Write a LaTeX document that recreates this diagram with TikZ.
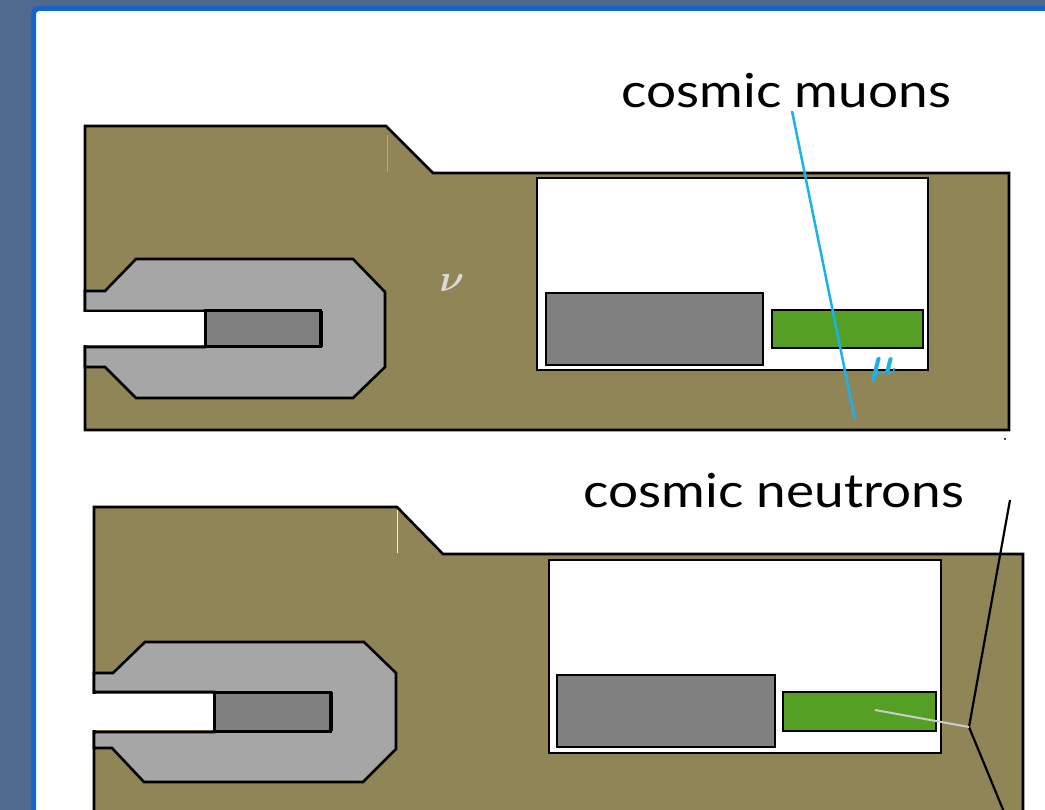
\documentclass[tikz,border=0pt]{standalone}
\usepackage{amsmath}
\usepackage{graphicx}
\usepackage{fontspec}
\setmainfont{Lato}
\newfontfamily\labelfont[FakeStretch=1.13]{Lato}
\usetikzlibrary{positioning}

\definecolor{slate}{RGB}{80,106,143}
\definecolor{frameblue}{RGB}{22,102,200}
\definecolor{rock}{RGB}{143,133,86}
\definecolor{shieldgray}{RGB}{166,166,166}
\definecolor{coregray}{RGB}{128,128,128}
\definecolor{detgreen}{RGB}{85,160,36}
\definecolor{muoncyan}{RGB}{26,178,234}

\begin{document}
\begin{tikzpicture}[x=1pt, y=-1pt,
    outline/.style={draw=black, line width=2.6pt},
    rockbody/.style={outline, fill=rock},
    shield/.style={outline, fill=shieldgray},
    core/.style={outline, line width=3pt, fill=coregray},
    hall/.style={outline, fill=white},
    target/.style={outline, fill=coregray},
    detector/.style={outline, fill=detgreen},
    label/.style={anchor=base west, font=\labelfont\fontsize{47}{56}\selectfont}]
    % page and slide frame
    \useasboundingbox (0,0) rectangle (1045,810);
    \fill[slate] (0,0) rectangle (1045,810);
    \draw[frameblue, line width=5pt, fill=white, rounded corners=5pt] (33.5,8.5) rectangle (1100,880);

    % upper site: rock with reactor shield and detector hall
    \draw[rockbody] (85,126) -- (386,126) -- (433,173) -- (1009,173) -- (1009,430) -- (85,430) -- cycle;
    \draw[rock!70!white, line width=0.6pt] (387,135) -- (387,172);
    \draw[shield] (85,291) -- (105,291) -- (136,259) -- (353,259) -- (385,292) -- (385,367) -- (353,398)
        -- (136,398) -- (105,367) -- (85,367) -- (85,347) -- (205,347) -- (205,311) -- (85,311) -- cycle;
    \fill[white] (82,312.5) rectangle (204,345.5);
    \draw[core] (205,311) rectangle (320,347);
    \draw[line width=1pt] (322,311) -- (322,347);
    \draw[hall] (537,178) rectangle (928,370);
    \draw[target] (546,293) rectangle (763,365);
    \draw[detector] (772,310) rectangle (923,348);
    \node[text=black!15] (nu) at (452,283) {\scalebox{3.8}{$\boldsymbol{\nu}$}};
    \fill (1005,439) circle (1.2pt);

    % lower site
    \draw[rockbody] (94,507) -- (397,507) -- (443,554) -- (1023,554) -- (1023,840) -- (94,840) -- cycle;
    \draw[white!85!rock, line width=1pt] (397,510) -- (397,553);
    \draw[shield] (94,673) -- (113,673) -- (145,642) -- (364,642) -- (396,673) -- (396,749) -- (363,782)
        -- (144,782) -- (112,748) -- (94,748) -- (94,732) -- (214,732) -- (214,692) -- (94,692) -- cycle;
    \fill[white] (91,694) rectangle (213,730);
    \draw[core] (214,692) rectangle (330,731);
    \draw[line width=1pt] (332,692) -- (332,731);
    \draw[hall] (549,560) rectangle (941,753);
    \draw[target] (557,675) rectangle (775,747);
    \draw[detector] (783,692) rectangle (936,731);

    % labels
    \node[label] (muons) at (618,108) {cosmic muons};
    \node[label] (neutrons) at (580,507) {cosmic neutrons};

    % muon track
    \coordinate (mutop) at (792,111);
    \coordinate (mubot) at (855,420);
    \draw[muoncyan, line width=2.5pt] (mutop) -- (mubot);
    \node[text=muoncyan] (mu) at (883,370) {\scalebox{3.8}{$\boldsymbol{\mu}$}};

    % neutron shower
    \coordinate (ntop) at (1010,500);
    \coordinate (nkink) at (969,727);
    \coordinate (nbot) at (1004,812);
    \coordinate (nhit) at (875,710);
    \draw[line width=2.2pt] (ntop) -- (nkink) -- (nbot);
    \draw[black!20, line width=2pt] (nkink) -- (nhit);
\end{tikzpicture}
\end{document}
